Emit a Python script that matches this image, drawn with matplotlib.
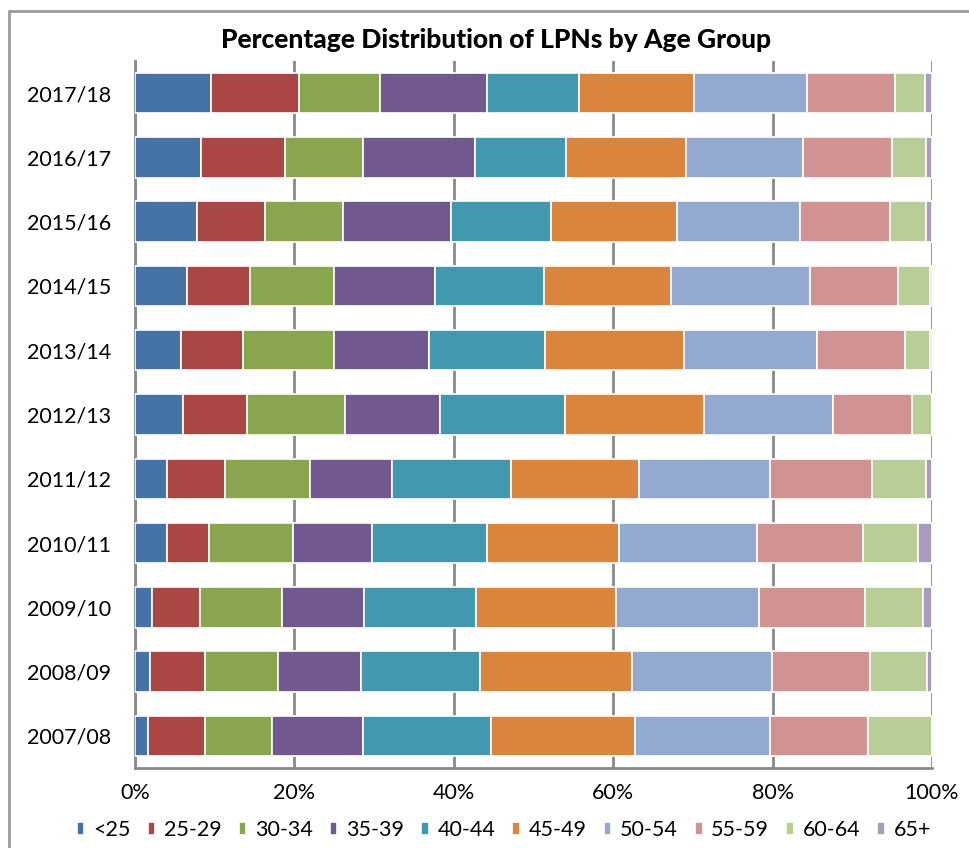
import matplotlib.pyplot as plt
import numpy as np
from matplotlib.patches import Rectangle

plt.rcParams['font.family'] = ['Lato', 'DejaVu Sans']

# fiscal years, bottom to top
years = ['2007/08', '2008/09', '2009/10', '2010/11', '2011/12', '2012/13',
         '2013/14', '2014/15', '2015/16', '2016/17', '2017/18']

age_groups = ['<25', '25-29', '30-34', '35-39', '40-44',
              '45-49', '50-54', '55-59', '60-64', '65+']

# share of LPNs (%) in each age group, per year
under_25 = [1.6, 1.9, 2.1, 4.0, 4.0, 6.0, 5.8, 6.5, 7.8, 8.3, 9.6]
age_25_29 = [7.2, 6.9, 6.0, 5.3, 7.3, 8.0, 7.7, 7.9, 8.5, 10.5, 11.0]
age_30_34 = [8.4, 9.2, 10.3, 10.5, 10.7, 12.3, 11.5, 10.6, 9.8, 9.8, 10.1]
age_35_39 = [11.4, 10.4, 10.3, 10.0, 10.3, 12.0, 11.9, 12.6, 13.6, 14.0, 13.5]
age_40_44 = [16.1, 14.9, 14.1, 14.4, 14.9, 15.7, 14.6, 13.7, 12.5, 11.5, 11.5]
age_45_49 = [18.1, 19.0, 17.5, 16.5, 16.0, 17.4, 17.4, 16.0, 15.8, 15.0, 14.4]
age_50_54 = [16.9, 17.6, 18.0, 17.4, 16.5, 16.2, 16.7, 17.4, 15.5, 14.7, 14.2]
age_55_59 = [12.3, 12.3, 13.3, 13.2, 12.8, 9.9, 11.0, 11.0, 11.2, 11.2, 11.1]
age_60_64 = [8.0, 7.2, 7.3, 6.9, 6.7, 2.5, 3.1, 4.0, 4.6, 4.3, 3.7]
age_65_plus = [0.0, 0.6, 1.1, 1.8, 0.8, 0.0, 0.3, 0.3, 0.7, 0.7, 0.9]

series = [under_25, age_25_29, age_30_34, age_35_39, age_40_44,
          age_45_49, age_50_54, age_55_59, age_60_64, age_65_plus]

colors = ['#4572A7', '#AA4643', '#89A54E', '#71588F', '#4198AF',
          '#DB843D', '#93A9CF', '#D19392', '#B9CD96', '#A99BBD']

GRID = '#898989'

data = np.array(series, dtype=float)
data = data / data.sum(axis=0) * 100

fig = plt.figure(figsize=(9.69, 8.48), dpi=100)
ax = fig.add_axes([0.1393, 0.0943, 0.8225, 0.8338])

y = np.arange(len(years))
left = np.zeros(len(years))
for label, vals, col in zip(age_groups, data, colors):
    ax.barh(y, vals, left=left, height=0.63, color=col,
            edgecolor='white', linewidth=1.2, label=label, zorder=3)
    left += vals

ax.set_xlim(0, 100)
ax.set_ylim(-0.5, len(years) - 0.5)
ax.set_yticks(y)
ax.set_yticklabels(years, fontsize=15.5)
ax.set_xticks([0, 20, 40, 60, 80, 100])
ax.set_xticklabels([f'{v}%' for v in [0, 20, 40, 60, 80, 100]], fontsize=15.5)
ax.tick_params(axis='both', length=0)
ax.tick_params(axis='y', pad=17)
ax.tick_params(axis='x', pad=11)

ax.xaxis.grid(True, color=GRID, linewidth=2.0, zorder=0)
ax.set_axisbelow(True)
for side in ['top', 'right']:
    ax.spines[side].set_visible(False)
for side in ['left', 'bottom']:
    ax.spines[side].set_color(GRID)
    ax.spines[side].set_linewidth(2.0)

fig.text(0.512, 0.953, 'Percentage Distribution of LPNs by Age Group',
         ha='center', va='center', fontsize=19, fontweight='black')

fig.legend(loc='center', bbox_to_anchor=(0.52, 0.021), ncol=10,
           frameon=False, fontsize=15.5, handlelength=0.35,
           handleheight=0.55, handletextpad=0.4, columnspacing=0.8)

# chart area border
fig.patches.append(Rectangle((9 / 969, -0.01), 1.0, 1 - 11 / 848 + 0.01,
                             transform=fig.transFigure, fill=False,
                             edgecolor='#9a9a9a', linewidth=2.0))

fig.savefig('out.png', dpi=100)
